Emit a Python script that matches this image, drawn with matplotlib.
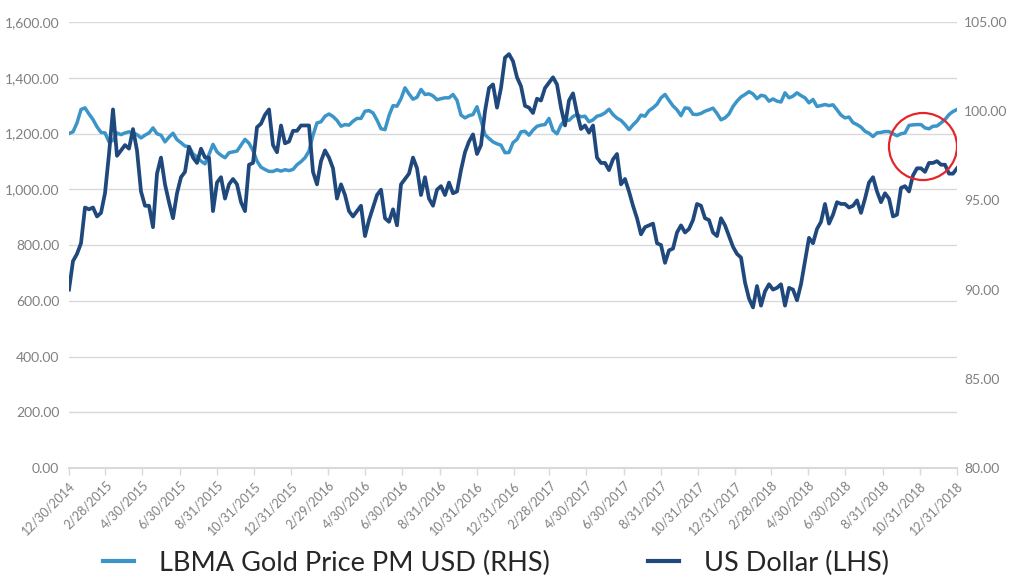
import numpy as np
import pandas as pd
import matplotlib
matplotlib.use('Agg')
import matplotlib.pyplot as plt
import matplotlib.dates as mdates
from matplotlib.patches import Ellipse
from matplotlib.ticker import MultipleLocator, FuncFormatter

plt.rcParams['font.family'] = ['Lato', 'DejaVu Sans']

# LBMA gold price (plotted on left axis), roughly weekly readings
gold = [1200, 1206, 1238, 1286, 1292, 1270, 1250, 1224, 1204, 1202,
        1170, 1175, 1202, 1196, 1202, 1206, 1202, 1196, 1184, 1194,
        1202, 1220, 1199, 1194, 1170, 1187, 1201, 1178, 1167, 1155,
        1153, 1127, 1116, 1101, 1091, 1125, 1161,
        1134, 1122, 1113, 1131, 1134, 1137, 1158, 1179, 1165, 1139,
        1101, 1079, 1071, 1064, 1064, 1070, 1065, 1070, 1067, 1071,
        1088, 1099, 1113, 1137, 1194, 1238, 1242, 1262, 1270, 1261,
        1247, 1226, 1232, 1230, 1244, 1254, 1254,
        1280, 1282, 1274, 1248, 1217, 1214, 1264, 1300, 1298, 1325,
        1364, 1342, 1323, 1330, 1358, 1340, 1342, 1335, 1321, 1325,
        1328, 1328, 1340, 1319, 1266, 1256, 1264, 1268, 1296, 1247,
        1196, 1182, 1170, 1163, 1158, 1131, 1132, 1167,
        1179, 1206, 1208, 1194, 1212, 1226, 1230, 1232, 1254, 1211,
        1199, 1230, 1250, 1247, 1261, 1268, 1260, 1262, 1242, 1249,
        1262, 1266, 1274, 1287, 1268, 1255, 1247, 1232, 1214, 1231,
        1245, 1266, 1262, 1282, 1292, 1305, 1328,
        1340, 1319, 1299, 1285, 1264, 1292, 1290, 1269, 1268, 1272,
        1280, 1285, 1291, 1272, 1249, 1256, 1270, 1297, 1316, 1331,
        1340, 1350, 1342, 1325, 1337, 1334, 1316, 1324, 1316, 1313,
        1346, 1328, 1334, 1346, 1336, 1328, 1310,
        1322, 1297, 1300, 1304, 1300, 1303, 1285, 1266, 1256, 1259,
        1239, 1232, 1223, 1208, 1201, 1189, 1202, 1204, 1207, 1207,
        1199, 1192, 1199, 1202, 1229, 1231, 1232, 1232, 1220, 1217,
        1226, 1227, 1238, 1250, 1268, 1279, 1286]

# US dollar index (plotted on right axis)
usd = [90.0, 91.6, 92.0, 92.6, 94.6, 94.5, 94.6, 94.1, 94.3, 95.4,
       97.6, 100.1, 97.5, 97.8, 98.1, 97.9, 99.0, 97.8, 95.5, 94.7,
       94.7, 93.5, 96.5, 97.4, 95.9, 94.9, 94.0, 95.4, 96.3, 96.6,
       98.0, 97.4, 97.1, 97.9, 97.4, 97.4, 94.4,
       96.0, 96.3, 95.1, 95.9, 96.2, 95.9, 94.9, 94.4, 97.0, 97.1,
       99.1, 99.3, 99.8, 100.1, 98.1, 97.7, 99.2, 98.2, 98.3, 98.9,
       98.9, 99.2, 99.2, 99.2, 96.6, 95.9, 97.2, 97.8, 97.4, 96.8,
       95.1, 95.9, 95.3, 94.4, 94.1, 94.4, 94.7,
       93.0, 93.9, 94.6, 95.3, 95.6, 94.0, 93.8, 94.5, 93.6, 95.9,
       96.2, 96.5, 97.4, 96.8, 95.3, 96.3, 95.1, 94.7, 95.6, 95.8,
       95.3, 96.0, 95.4, 95.5, 96.7, 97.7, 98.3, 98.7, 97.6, 98.1,
       100.0, 101.3, 101.5, 100.2, 101.3, 103.0, 103.2, 102.8,
       101.9, 101.4, 100.3, 100.2, 99.9, 100.7, 100.6, 101.3, 101.6, 101.9,
       101.5, 100.2, 99.2, 100.6, 101.0, 99.9, 99.0, 99.2, 98.8, 99.2,
       97.4, 97.1, 97.1, 96.7, 97.3, 97.6, 95.9, 96.2, 95.5, 94.7,
       94.0, 93.1, 93.5, 93.6, 93.7, 92.6, 92.5,
       91.5, 92.2, 92.3, 93.2, 93.6, 93.2, 93.4, 93.9, 94.8, 94.7,
       94.0, 93.9, 93.2, 93.0, 94.0, 93.6, 93.0, 92.4, 92.0, 91.8,
       90.4, 89.5, 89.0, 90.2, 89.1, 89.9, 90.3, 90.0, 90.1, 90.3,
       89.1, 90.1, 90.0, 89.4, 90.3, 91.6, 92.9,
       92.6, 93.4, 93.8, 94.8, 93.7, 94.2, 94.9, 94.8, 94.8, 94.6,
       94.7, 95.0, 94.3, 95.1, 96.0, 96.3, 95.5, 94.9, 95.4, 95.1,
       94.1, 94.2, 95.7, 95.8, 95.5, 96.4, 96.8, 96.8, 96.6, 97.1,
       97.1, 97.2, 97.0, 97.0, 96.5, 96.5, 96.8]

tick_labels = ['12/30/2014', '2/28/2015', '4/30/2015', '6/30/2015', '8/31/2015',
               '10/31/2015', '12/31/2015', '2/29/2016', '4/30/2016', '6/30/2016',
               '8/31/2016', '10/31/2016', '12/31/2016', '2/28/2017', '4/30/2017',
               '6/30/2017', '8/31/2017', '10/31/2017', '12/31/2017', '2/28/2018',
               '4/30/2018', '6/30/2018', '8/31/2018', '10/31/2018', '12/31/2018']

start, end = '2014-12-30', '2018-12-31'
dates_gold = pd.date_range(start, end, periods=len(gold))
dates_usd = pd.date_range(start, end, periods=len(usd))
tick_dates = pd.to_datetime(tick_labels, format='%m/%d/%Y')

GOLD_C = '#3c95c9'
USD_C = '#1f497d'
GRID_C = '#d9d9d9'
LABEL_C = '#808080'

fig = plt.figure(figsize=(10.14, 5.78), dpi=100)
ax = fig.add_axes([69/1014, 1-468/578, 888/1014, 446/578])
ax2 = ax.twinx()

l1, = ax.plot(dates_gold, gold, color=GOLD_C, lw=2.5)
l2, = ax2.plot(dates_usd, usd, color=USD_C, lw=2.7)

ax.set_xlim(pd.Timestamp(start), pd.Timestamp(end))
ax.set_ylim(0, 1600)
ax.yaxis.set_major_locator(MultipleLocator(200))
ax.yaxis.set_major_formatter(FuncFormatter(lambda v, p: f'{v:,.2f}'))
ax2.set_ylim(80, 105)
ax2.yaxis.set_major_locator(MultipleLocator(5))
ax2.yaxis.set_major_formatter(FuncFormatter(lambda v, p: f'{v:.2f}'))

ax.grid(axis='y', color=GRID_C, lw=1)
ax.set_axisbelow(True)
for a in (ax, ax2):
    for s in a.spines.values():
        s.set_visible(False)
ax.spines['bottom'].set_visible(True)
ax.spines['bottom'].set_color(GRID_C)
ax.spines['bottom'].set_linewidth(1.5)

ax.tick_params(axis='y', length=0, pad=7, labelsize=10, labelcolor=LABEL_C)
ax2.tick_params(axis='y', length=0, pad=5, labelsize=10, labelcolor=LABEL_C)
ax.set_xticks(tick_dates)
ax.set_xticklabels(tick_labels)
ax.tick_params(axis='x', length=5, color=GRID_C, width=1, labelsize=9,
               labelcolor=LABEL_C, pad=3)
for lbl in ax.get_xticklabels():
    lbl.set_rotation(45)
    lbl.set_ha('right')
    lbl.set_rotation_mode('anchor')

# red circle highlighting the recent period
circ_center = mdates.date2num(pd.Timestamp('2018-11-05'))
ax2.add_patch(Ellipse((circ_center, 98.02), width=112, height=3.76,
                      fill=False, edgecolor='#e4262b', lw=1.6, zorder=5))

leg = fig.legend([l1, l2], ['LBMA Gold Price PM USD (RHS)', 'US Dollar (LHS)'],
                 loc='center', bbox_to_anchor=(0.489, 0.026), ncol=2, frameon=False,
                 fontsize=19.5, handlelength=1.15, handletextpad=0.93,
                 columnspacing=3.6, labelcolor='#262626')
for h in leg.legend_handles:
    h.set_linewidth(3)

fig.savefig('out.png', dpi=100)
